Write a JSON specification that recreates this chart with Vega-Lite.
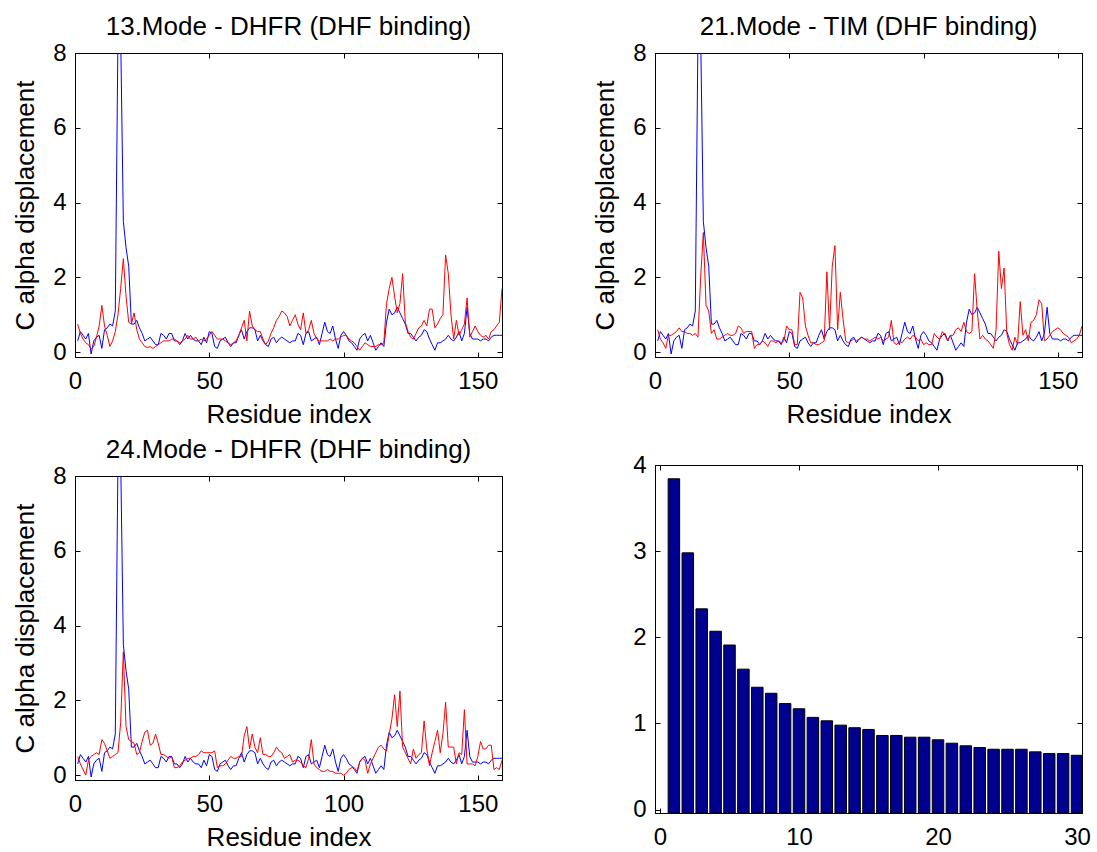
{
"$schema": "https://vega.github.io/schema/vega-lite/v6.json",
"background": "white",
"padding": {"left": 12, "top": 13, "right": 5, "bottom": 0},
"datasets": {
"residues": [
{"residue":1,"ref":0.3,"mode13":0.75,"mode21":0.6,"mode24":0.5},
{"residue":2,"ref":0.55,"mode13":0.5,"mode21":0.35,"mode24":0.3},
{"residue":3,"ref":0.45,"mode13":0.35,"mode21":0.25,"mode24":0.15},
{"residue":4,"ref":0.35,"mode13":0.25,"mode21":0.1,"mode24":0.0},
{"residue":5,"ref":0.5,"mode13":0.2,"mode21":0.45,"mode24":0.4},
{"residue":6,"ref":-0.05,"mode13":0.08,"mode21":0.45,"mode24":0.5},
{"residue":7,"ref":0.3,"mode13":0.15,"mode21":0.5,"mode24":0.55},
{"residue":8,"ref":0.4,"mode13":0.4,"mode21":0.55,"mode24":0.6},
{"residue":9,"ref":0.45,"mode13":0.7,"mode21":0.65,"mode24":0.55},
{"residue":10,"ref":0.1,"mode13":1.25,"mode21":0.55,"mode24":0.95},
{"residue":11,"ref":0.6,"mode13":0.7,"mode21":0.55,"mode24":0.85},
{"residue":12,"ref":0.65,"mode13":0.45,"mode21":0.5,"mode24":0.65},
{"residue":13,"ref":0.75,"mode13":0.15,"mode21":0.5,"mode24":0.45},
{"residue":14,"ref":0.7,"mode13":0.3,"mode21":0.45,"mode24":0.5},
{"residue":15,"ref":1.1,"mode13":0.55,"mode21":0.5,"mode24":0.55},
{"residue":16,"ref":8.5,"mode13":1.0,"mode21":0.4,"mode24":0.6},
{"residue":17,"ref":8.5,"mode13":1.7,"mode21":2.0,"mode24":1.4},
{"residue":18,"ref":3.5,"mode13":2.5,"mode21":3.2,"mode24":3.3},
{"residue":19,"ref":2.8,"mode13":1.5,"mode21":1.25,"mode24":1.3},
{"residue":20,"ref":2.3,"mode13":0.8,"mode21":1.1,"mode24":0.95},
{"residue":21,"ref":0.75,"mode13":0.75,"mode21":0.5,"mode24":0.9},
{"residue":22,"ref":0.75,"mode13":1.05,"mode21":0.6,"mode24":0.85},
{"residue":23,"ref":0.85,"mode13":0.6,"mode21":0.35,"mode24":0.55},
{"residue":24,"ref":0.65,"mode13":0.35,"mode21":0.35,"mode24":0.6},
{"residue":25,"ref":0.5,"mode13":0.25,"mode21":0.4,"mode24":0.9},
{"residue":26,"ref":0.3,"mode13":0.15,"mode21":0.45,"mode24":1.15},
{"residue":27,"ref":0.35,"mode13":0.12,"mode21":0.5,"mode24":1.2},
{"residue":28,"ref":0.4,"mode13":0.15,"mode21":0.45,"mode24":0.8},
{"residue":29,"ref":0.3,"mode13":0.1,"mode21":0.45,"mode24":0.85},
{"residue":30,"ref":0.2,"mode13":0.15,"mode21":0.5,"mode24":1.1},
{"residue":31,"ref":0.2,"mode13":0.2,"mode21":0.7,"mode24":0.85},
{"residue":32,"ref":0.5,"mode13":0.25,"mode21":0.65,"mode24":0.55},
{"residue":33,"ref":0.45,"mode13":0.3,"mode21":0.5,"mode24":0.55},
{"residue":34,"ref":0.35,"mode13":0.3,"mode21":0.55,"mode24":0.5},
{"residue":35,"ref":0.5,"mode13":0.3,"mode21":0.55,"mode24":0.45},
{"residue":36,"ref":0.5,"mode13":0.35,"mode21":0.55,"mode24":0.5},
{"residue":37,"ref":0.3,"mode13":0.35,"mode21":0.1,"mode24":0.2},
{"residue":38,"ref":0.3,"mode13":0.3,"mode21":0.2,"mode24":0.2},
{"residue":39,"ref":0.2,"mode13":0.25,"mode21":0.2,"mode24":0.25},
{"residue":40,"ref":0.3,"mode13":0.3,"mode21":0.3,"mode24":0.35},
{"residue":41,"ref":0.5,"mode13":0.35,"mode21":0.25,"mode24":0.4},
{"residue":42,"ref":0.35,"mode13":0.45,"mode21":0.15,"mode24":0.45},
{"residue":43,"ref":0.45,"mode13":0.35,"mode21":0.3,"mode24":0.45},
{"residue":44,"ref":0.35,"mode13":0.35,"mode21":0.3,"mode24":0.5},
{"residue":45,"ref":0.3,"mode13":0.4,"mode21":0.25,"mode24":0.5},
{"residue":46,"ref":0.3,"mode13":0.3,"mode21":0.3,"mode24":0.55},
{"residue":47,"ref":0.2,"mode13":0.35,"mode21":0.25,"mode24":0.65},
{"residue":48,"ref":0.4,"mode13":0.3,"mode21":0.3,"mode24":0.6},
{"residue":49,"ref":0.25,"mode13":0.35,"mode21":0.7,"mode24":0.6},
{"residue":50,"ref":0.55,"mode13":0.45,"mode21":0.6,"mode24":0.6},
{"residue":51,"ref":0.5,"mode13":0.55,"mode21":0.6,"mode24":0.6},
{"residue":52,"ref":0.15,"mode13":0.45,"mode21":0.2,"mode24":0.65},
{"residue":53,"ref":0.1,"mode13":0.35,"mode21":0.2,"mode24":0.2},
{"residue":54,"ref":0.3,"mode13":0.35,"mode21":1.6,"mode24":0.25},
{"residue":55,"ref":0.35,"mode13":0.35,"mode21":1.45,"mode24":0.25},
{"residue":56,"ref":0.4,"mode13":0.3,"mode21":0.7,"mode24":0.3},
{"residue":57,"ref":0.25,"mode13":0.25,"mode21":0.45,"mode24":0.4},
{"residue":58,"ref":0.15,"mode13":0.2,"mode21":0.25,"mode24":0.5},
{"residue":59,"ref":0.25,"mode13":0.25,"mode21":0.25,"mode24":0.45},
{"residue":60,"ref":0.25,"mode13":0.3,"mode21":0.2,"mode24":0.45},
{"residue":61,"ref":0.45,"mode13":0.45,"mode21":0.2,"mode24":0.5},
{"residue":62,"ref":0.6,"mode13":0.65,"mode21":0.25,"mode24":0.5},
{"residue":63,"ref":0.35,"mode13":0.85,"mode21":0.3,"mode24":1.05},
{"residue":64,"ref":0.55,"mode13":0.3,"mode21":2.15,"mode24":1.3},
{"residue":65,"ref":0.65,"mode13":1.1,"mode21":0.6,"mode24":0.7},
{"residue":66,"ref":0.65,"mode13":0.7,"mode21":2.3,"mode24":1.1},
{"residue":67,"ref":0.6,"mode13":0.6,"mode21":2.85,"mode24":0.75},
{"residue":68,"ref":0.3,"mode13":0.55,"mode21":0.6,"mode24":0.6},
{"residue":69,"ref":0.45,"mode13":0.55,"mode21":1.6,"mode24":1.0},
{"residue":70,"ref":0.3,"mode13":0.35,"mode21":0.9,"mode24":0.55},
{"residue":71,"ref":0.2,"mode13":0.2,"mode21":0.3,"mode24":0.55},
{"residue":72,"ref":0.15,"mode13":0.3,"mode21":0.25,"mode24":0.5},
{"residue":73,"ref":0.35,"mode13":0.5,"mode21":0.3,"mode24":0.5},
{"residue":74,"ref":0.4,"mode13":0.65,"mode21":0.35,"mode24":0.6},
{"residue":75,"ref":0.25,"mode13":0.85,"mode21":0.3,"mode24":0.75},
{"residue":76,"ref":0.35,"mode13":0.95,"mode21":0.35,"mode24":0.65},
{"residue":77,"ref":0.4,"mode13":1.1,"mode21":0.4,"mode24":0.6},
{"residue":78,"ref":0.35,"mode13":1.05,"mode21":0.35,"mode24":0.45},
{"residue":79,"ref":0.3,"mode13":0.95,"mode21":0.35,"mode24":0.5},
{"residue":80,"ref":0.25,"mode13":0.7,"mode21":0.3,"mode24":0.55},
{"residue":81,"ref":0.3,"mode13":0.85,"mode21":0.35,"mode24":0.35},
{"residue":82,"ref":0.3,"mode13":1.0,"mode21":0.4,"mode24":0.4},
{"residue":83,"ref":0.5,"mode13":0.75,"mode21":0.35,"mode24":0.4},
{"residue":84,"ref":0.45,"mode13":0.6,"mode21":0.4,"mode24":0.35},
{"residue":85,"ref":0.2,"mode13":1.05,"mode21":0.3,"mode24":0.25},
{"residue":86,"ref":0.5,"mode13":0.5,"mode21":0.35,"mode24":0.2},
{"residue":87,"ref":0.55,"mode13":0.6,"mode21":0.4,"mode24":0.45},
{"residue":88,"ref":0.3,"mode13":0.85,"mode21":0.85,"mode24":0.95},
{"residue":89,"ref":0.35,"mode13":0.5,"mode21":0.25,"mode24":0.3},
{"residue":90,"ref":0.4,"mode13":0.35,"mode21":0.2,"mode24":0.2},
{"residue":91,"ref":0.2,"mode13":0.3,"mode21":0.3,"mode24":0.15},
{"residue":92,"ref":0.5,"mode13":0.3,"mode21":0.25,"mode24":0.1},
{"residue":93,"ref":0.8,"mode13":0.3,"mode21":0.35,"mode24":0.1},
{"residue":94,"ref":0.55,"mode13":0.3,"mode21":0.4,"mode24":0.15},
{"residue":95,"ref":0.5,"mode13":0.35,"mode21":0.35,"mode24":0.1},
{"residue":96,"ref":0.7,"mode13":0.3,"mode21":0.45,"mode24":0.1},
{"residue":97,"ref":0.35,"mode13":0.35,"mode21":0.4,"mode24":0.05},
{"residue":98,"ref":0.1,"mode13":0.35,"mode21":0.3,"mode24":0.05},
{"residue":99,"ref":0.45,"mode13":0.4,"mode21":0.35,"mode24":0.05},
{"residue":100,"ref":0.55,"mode13":0.45,"mode21":0.2,"mode24":0.0},
{"residue":101,"ref":0.45,"mode13":0.45,"mode21":0.25,"mode24":0.05},
{"residue":102,"ref":0.3,"mode13":0.35,"mode21":0.2,"mode24":0.15},
{"residue":103,"ref":0.25,"mode13":0.3,"mode21":0.2,"mode24":0.2},
{"residue":104,"ref":0.15,"mode13":0.25,"mode21":0.5,"mode24":0.2},
{"residue":105,"ref":0.05,"mode13":0.15,"mode21":0.4,"mode24":0.1},
{"residue":106,"ref":0.35,"mode13":0.05,"mode21":0.35,"mode24":0.35},
{"residue":107,"ref":0.45,"mode13":0.15,"mode21":0.55,"mode24":0.45},
{"residue":108,"ref":0.5,"mode13":0.25,"mode21":0.45,"mode24":0.4},
{"residue":109,"ref":0.3,"mode13":0.2,"mode21":0.3,"mode24":0.05},
{"residue":110,"ref":0.45,"mode13":0.15,"mode21":0.45,"mode24":0.3},
{"residue":111,"ref":0.25,"mode13":0.15,"mode21":0.45,"mode24":0.45},
{"residue":112,"ref":0.05,"mode13":0.15,"mode21":0.6,"mode24":0.6},
{"residue":113,"ref":0.15,"mode13":0.2,"mode21":0.65,"mode24":0.75},
{"residue":114,"ref":0.25,"mode13":0.2,"mode21":0.55,"mode24":0.8},
{"residue":115,"ref":0.15,"mode13":0.25,"mode21":0.8,"mode24":0.7},
{"residue":116,"ref":0.8,"mode13":1.3,"mode21":0.55,"mode24":0.65},
{"residue":117,"ref":1.15,"mode13":1.7,"mode21":0.5,"mode24":1.1},
{"residue":118,"ref":1.0,"mode13":2.0,"mode21":0.55,"mode24":1.5},
{"residue":119,"ref":1.05,"mode13":1.5,"mode21":2.1,"mode24":2.15},
{"residue":120,"ref":1.2,"mode13":1.05,"mode21":1.1,"mode24":1.3},
{"residue":121,"ref":1.05,"mode13":1.3,"mode21":0.35,"mode24":2.25},
{"residue":122,"ref":0.9,"mode13":2.1,"mode21":0.45,"mode24":0.75},
{"residue":123,"ref":0.75,"mode13":0.8,"mode21":0.35,"mode24":0.6},
{"residue":124,"ref":0.5,"mode13":0.55,"mode21":0.3,"mode24":0.45},
{"residue":125,"ref":0.5,"mode13":0.4,"mode21":0.2,"mode24":0.3},
{"residue":126,"ref":0.4,"mode13":0.35,"mode21":0.1,"mode24":0.7},
{"residue":127,"ref":0.3,"mode13":0.5,"mode21":0.6,"mode24":0.45},
{"residue":128,"ref":0.4,"mode13":0.65,"mode21":2.7,"mode24":0.55},
{"residue":129,"ref":0.45,"mode13":0.7,"mode21":1.7,"mode24":0.6},
{"residue":130,"ref":0.6,"mode13":0.85,"mode21":2.25,"mode24":1.45},
{"residue":131,"ref":0.55,"mode13":0.7,"mode21":0.5,"mode24":0.7},
{"residue":132,"ref":0.35,"mode13":1.15,"mode21":0.2,"mode24":0.25},
{"residue":133,"ref":0.2,"mode13":1.15,"mode21":0.05,"mode24":0.6},
{"residue":134,"ref":0.05,"mode13":0.65,"mode21":0.4,"mode24":0.9},
{"residue":135,"ref":0.25,"mode13":0.75,"mode21":0.2,"mode24":1.2},
{"residue":136,"ref":0.25,"mode13":0.9,"mode21":1.35,"mode24":0.6},
{"residue":137,"ref":0.3,"mode13":1.0,"mode21":0.45,"mode24":1.1},
{"residue":138,"ref":0.35,"mode13":2.6,"mode21":0.6,"mode24":1.95},
{"residue":139,"ref":0.45,"mode13":2.1,"mode21":0.3,"mode24":0.75},
{"residue":140,"ref":0.35,"mode13":1.0,"mode21":0.8,"mode24":0.75},
{"residue":141,"ref":0.3,"mode13":0.35,"mode21":0.85,"mode24":0.75},
{"residue":142,"ref":0.4,"mode13":0.85,"mode21":1.0,"mode24":0.3},
{"residue":143,"ref":0.55,"mode13":0.45,"mode21":1.4,"mode24":0.6},
{"residue":144,"ref":0.3,"mode13":0.6,"mode21":1.3,"mode24":0.55},
{"residue":145,"ref":0.5,"mode13":0.75,"mode21":0.3,"mode24":1.75},
{"residue":146,"ref":1.2,"mode13":1.45,"mode21":0.35,"mode24":0.3},
{"residue":147,"ref":0.5,"mode13":0.4,"mode21":0.45,"mode24":0.3},
{"residue":148,"ref":0.35,"mode13":0.55,"mode21":0.55,"mode24":0.3},
{"residue":149,"ref":0.35,"mode13":0.7,"mode21":0.6,"mode24":0.25},
{"residue":150,"ref":0.35,"mode13":0.55,"mode21":0.65,"mode24":0.5},
{"residue":151,"ref":0.3,"mode13":0.45,"mode21":0.6,"mode24":0.9},
{"residue":152,"ref":0.35,"mode13":0.4,"mode21":0.5,"mode24":0.7},
{"residue":153,"ref":0.35,"mode13":0.45,"mode21":0.45,"mode24":0.7},
{"residue":154,"ref":0.3,"mode13":0.35,"mode21":0.4,"mode24":0.8},
{"residue":155,"ref":0.4,"mode13":0.55,"mode21":0.25,"mode24":0.8},
{"residue":156,"ref":0.45,"mode13":0.6,"mode21":0.3,"mode24":0.15},
{"residue":157,"ref":0.45,"mode13":0.7,"mode21":0.35,"mode24":0.2},
{"residue":158,"ref":0.45,"mode13":0.8,"mode21":0.45,"mode24":0.15},
{"residue":159,"ref":0.45,"mode13":1.7,"mode21":0.7,"mode24":0.4}
],
"bars": [
{"mode":1,"value":3.84},{"mode":2,"value":2.98},{"mode":3,"value":2.33},{"mode":4,"value":2.07},{"mode":5,"value":1.91},
{"mode":6,"value":1.63},{"mode":7,"value":1.42},{"mode":8,"value":1.35},{"mode":9,"value":1.23},{"mode":10,"value":1.17},
{"mode":11,"value":1.07},{"mode":12,"value":1.03},{"mode":13,"value":0.98},{"mode":14,"value":0.95},{"mode":15,"value":0.93},
{"mode":16,"value":0.86},{"mode":17,"value":0.86},{"mode":18,"value":0.84},{"mode":19,"value":0.84},{"mode":20,"value":0.81},
{"mode":21,"value":0.77},{"mode":22,"value":0.74},{"mode":23,"value":0.72},{"mode":24,"value":0.7},{"mode":25,"value":0.7},
{"mode":26,"value":0.7},{"mode":27,"value":0.67},{"mode":28,"value":0.65},{"mode":29,"value":0.65},{"mode":30,"value":0.63}
]
},
"config": {
"font": "Liberation Sans",
"view": {"stroke": "black", "strokeWidth": 1},
"axis": {"domainColor": "black", "domainWidth": 1, "tickColor": "black", "tickSize": -5, "tickWidth": 1, "labelColor": "black", "labelFont": "Liberation Sans", "labelFontSize": 24, "labelPadding": 14, "labelFlush": false, "labelOverlap": false, "titleColor": "black", "titleFont": "Liberation Sans", "titleFontSize": 26, "titleFontWeight": "normal", "grid": false},
"axisLeft": {"titlePadding": 14},
"axisBottom": {"titlePadding": 8, "labelPadding": 17},
"title": {"font": "Liberation Sans", "fontSize": 26, "fontWeight": "normal", "color": "black", "anchor": "middle", "offset": 1}
},
"spacing": 89,
"hconcat": [
{"vconcat": [
{"title": "13.Mode - DHFR (DHF binding)", "width": 427, "height": 304, "data": {"name": "residues"},
 "layer": [
  {"mark": {"type": "line", "color": "#0000FF", "strokeWidth": 1, "clip": true},
   "encoding": {
    "x": {"field": "residue", "type": "quantitative", "scale": {"domain": [0, 159], "nice": false, "zero": false}, "axis": {"orient": "bottom", "values": [0, 50, 100, 150], "title": "Residue index"}},
    "y": {"field": "ref", "type": "quantitative", "scale": {"domain": [-0.13, 8], "nice": false, "zero": false}, "axis": {"orient": "left", "values": [0, 2, 4, 6, 8], "title": "C alpha displacement"}}}},
  {"mark": {"type": "line", "color": "#FF0000", "strokeWidth": 1, "clip": true},
   "encoding": {
    "x": {"field": "residue", "type": "quantitative", "axis": {"orient": "top", "values": [0, 50, 100, 150], "labels": false, "title": null}},
    "y": {"field": "mode13", "type": "quantitative", "axis": {"orient": "right", "values": [0, 2, 4, 6, 8], "labels": false, "title": null}}}}
 ],
 "resolve": {"axis": {"x": "independent", "y": "independent"}}},
{"title": "24.Mode - DHFR (DHF binding)", "width": 427, "height": 304, "data": {"name": "residues"},
 "layer": [
  {"mark": {"type": "line", "color": "#0000FF", "strokeWidth": 1, "clip": true},
   "encoding": {
    "x": {"field": "residue", "type": "quantitative", "scale": {"domain": [0, 159], "nice": false, "zero": false}, "axis": {"orient": "bottom", "values": [0, 50, 100, 150], "title": "Residue index"}},
    "y": {"field": "ref", "type": "quantitative", "scale": {"domain": [-0.13, 8], "nice": false, "zero": false}, "axis": {"orient": "left", "values": [0, 2, 4, 6, 8], "title": "C alpha displacement"}}}},
  {"mark": {"type": "line", "color": "#FF0000", "strokeWidth": 1, "clip": true},
   "encoding": {
    "x": {"field": "residue", "type": "quantitative", "axis": {"orient": "top", "values": [0, 50, 100, 150], "labels": false, "title": null}},
    "y": {"field": "mode24", "type": "quantitative", "axis": {"orient": "right", "values": [0, 2, 4, 6, 8], "labels": false, "title": null}}}}
 ],
 "resolve": {"axis": {"x": "independent", "y": "independent"}}}
], "spacing": 8},
{"vconcat": [
{"title": "21.Mode - TIM (DHF binding)", "width": 427, "height": 304, "data": {"name": "residues"},
 "layer": [
  {"mark": {"type": "line", "color": "#0000FF", "strokeWidth": 1, "clip": true},
   "encoding": {
    "x": {"field": "residue", "type": "quantitative", "scale": {"domain": [0, 159], "nice": false, "zero": false}, "axis": {"orient": "bottom", "values": [0, 50, 100, 150], "title": "Residue index"}},
    "y": {"field": "ref", "type": "quantitative", "scale": {"domain": [-0.13, 8], "nice": false, "zero": false}, "axis": {"orient": "left", "values": [0, 2, 4, 6, 8], "title": "C alpha displacement"}}}},
  {"mark": {"type": "line", "color": "#FF0000", "strokeWidth": 1, "clip": true},
   "encoding": {
    "x": {"field": "residue", "type": "quantitative", "axis": {"orient": "top", "values": [0, 50, 100, 150], "labels": false, "title": null}},
    "y": {"field": "mode21", "type": "quantitative", "axis": {"orient": "right", "values": [0, 2, 4, 6, 8], "labels": false, "title": null}}}}
 ],
 "resolve": {"axis": {"x": "independent", "y": "independent"}}},
{"width": 427, "height": 348, "data": {"name": "bars"},
 "layer": [
  {"mark": {"type": "bar", "color": "#000090", "stroke": "black", "strokeWidth": 1, "size": 11.5, "clip": true},
   "encoding": {
    "x": {"field": "mode", "type": "quantitative", "scale": {"domain": [0, 30], "nice": false, "zero": false}, "axis": {"orient": "bottom", "values": [0, 10, 20, 30], "title": null}},
    "y": {"field": "value", "type": "quantitative", "scale": {"domain": [-0.04, 4], "nice": false, "zero": false}, "axis": {"orient": "left", "values": [0, 1, 2, 3, 4], "title": null}},
    "y2": {"datum": -0.04}}},
  {"mark": {"type": "point", "opacity": 0},
   "encoding": {
    "x": {"field": "mode", "type": "quantitative", "axis": {"orient": "top", "values": [0, 10, 20, 30], "labels": false, "title": null}},
    "y": {"field": "value", "type": "quantitative", "axis": {"orient": "right", "values": [0, 1, 2, 3, 4], "labels": false, "title": null}}}}
 ],
 "resolve": {"axis": {"x": "independent", "y": "independent"}}}
], "spacing": 24}
]
}
